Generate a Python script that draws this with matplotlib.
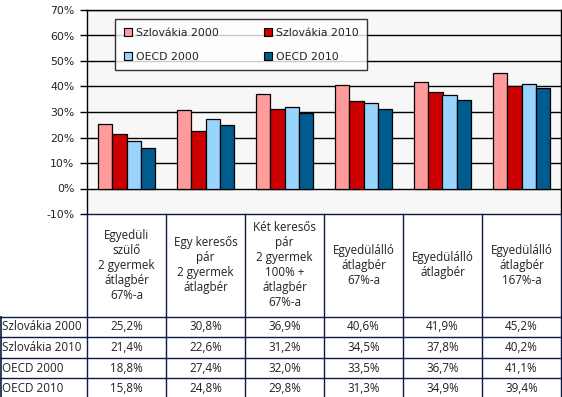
import numpy as np
import matplotlib.pyplot as plt
from matplotlib.patches import Patch

categories = [
    "Egyedüli\nszülő\n2 gyermek\nátlagbér\n67%-a",
    "Egy keresős\npár\n2 gyermek\nátlagbér",
    "Két keresős\npár\n2 gyermek\n100% +\nátlagbér\n67%-a",
    "Egyedülálló\nátlagbér\n67%-a",
    "Egyedülálló\nátlagbér",
    "Egyedülálló\nátlagbér\n167%-a",
]
series = ["Szlovákia 2000", "Szlovákia 2010", "OECD 2000", "OECD 2010"]
szk_2000 = [25.2, 30.8, 36.9, 40.6, 41.9, 45.2]
szk_2010 = [21.4, 22.6, 31.2, 34.5, 37.8, 40.2]
oecd_2000 = [18.8, 27.4, 32.0, 33.5, 36.7, 41.1]
oecd_2010 = [15.8, 24.8, 29.8, 31.3, 34.9, 39.4]
values = [szk_2000, szk_2010, oecd_2000, oecd_2010]
colors = ["#FF9B9B", "#CC0000", "#99D4FF", "#005C8F"]
yticks = np.arange(-10, 71, 10)

W, H = 562, 397
fig = plt.figure(figsize=(W / 100, H / 100), dpi=100)
fig.patch.set_facecolor("white")

# chart area (pixel positions from the reference)
L, R, T, B = 87, 561, 10, 214
ax = fig.add_axes([L / W, 1 - B / H, (R - L) / W, (B - T) / H])
ax.set_facecolor("#F7F7F7")
x = np.arange(len(categories))
bw = 0.181
for i, (vals, c) in enumerate(zip(values, colors)):
    ax.bar(x + (i - 1.5) * bw, vals, bw, color=c, edgecolor="black",
           linewidth=0.9, zorder=3)
ax.set_xlim(-0.5, len(categories) - 0.5)
ax.set_ylim(-10, 70)
ax.set_yticks(yticks)
ax.set_yticklabels([f"{v}%" for v in yticks], fontsize=7.8, color="#222222")
ax.set_xticks([])
ax.tick_params(axis="y", length=5, width=1, pad=4)
for v in yticks[1:]:
    ax.axhline(v, color="black", linewidth=1, zorder=1)
for s in ["left", "right", "top"]:
    ax.spines[s].set_color("black")
    ax.spines[s].set_linewidth(1)
ax.spines["bottom"].set_visible(False)

# legend fills column by column, so order handles to read row by row
order = [0, 2, 1, 3]
handles = [Patch(facecolor=colors[i], edgecolor="black", linewidth=0.8,
                 label=series[i]) for i in order]
leg = ax.legend(handles=handles, ncol=2, loc="upper left", mode="expand",
                bbox_to_anchor=((115 - L) / (R - L), (B - 21) / (B - T),
                                (367 - 115) / (R - L), 0.01),
                fontsize=7.8, frameon=True, fancybox=False, borderpad=0.8,
                labelspacing=1.3, handlelength=0.8, handleheight=0.8,
                handletextpad=0.3, columnspacing=1.0, borderaxespad=0)
leg.get_frame().set_edgecolor("black")
leg.get_frame().set_linewidth(1)
leg.get_frame().set_facecolor("white")
for t in leg.get_texts():
    t.set_color("#222222")

# data table below the chart
tab = fig.add_axes([L / W, 0, (R - L) / W, (H - B) / H])
tab.set_xlim(-0.5, len(categories) - 0.5)
tab.set_ylim(H - B, 0)
tab.axis("off")
line_c = "#0B1A45"
head_h = 102.5
row_h = 20.6
left_w = L / ((R - L) / len(categories))
x0 = -0.5 - left_w
tab.plot([-0.5, len(categories) - 0.5], [0, 0], color=line_c, lw=1, clip_on=False)
for k in range(len(categories) + 1):
    tab.plot([k - 0.5, k - 0.5], [0, H - B + 5], color=line_c, lw=1, clip_on=False)
tab.plot([x0 + 0.01, x0 + 0.01], [head_h, H - B + 5], color=line_c, lw=1.2,
         clip_on=False)
for r in range(len(series)):
    yy = head_h + r * row_h
    tab.plot([x0, len(categories) - 0.5], [yy, yy], color=line_c, lw=1,
             clip_on=False)
fs = 8.4
for k, cat in enumerate(categories):
    tab.text(k, head_h / 2, cat, ha="center", va="center", fontsize=fs,
             family="Open Sans", color="#222222", linespacing=1.2)
for r, (s, vals) in enumerate(zip(series, values)):
    yc = head_h + (r + 0.5) * row_h
    tab.text(x0 + 0.03, yc, s, ha="left", va="center", fontsize=fs,
             family="Open Sans", color="#222222", clip_on=False)
    for k, v in enumerate(vals):
        tab.text(k, yc, f"{v:.1f}%".replace(".", ","), ha="center",
                 va="center", fontsize=fs, family="Open Sans",
                 color="#222222")

fig.savefig("out.png", dpi=100)
